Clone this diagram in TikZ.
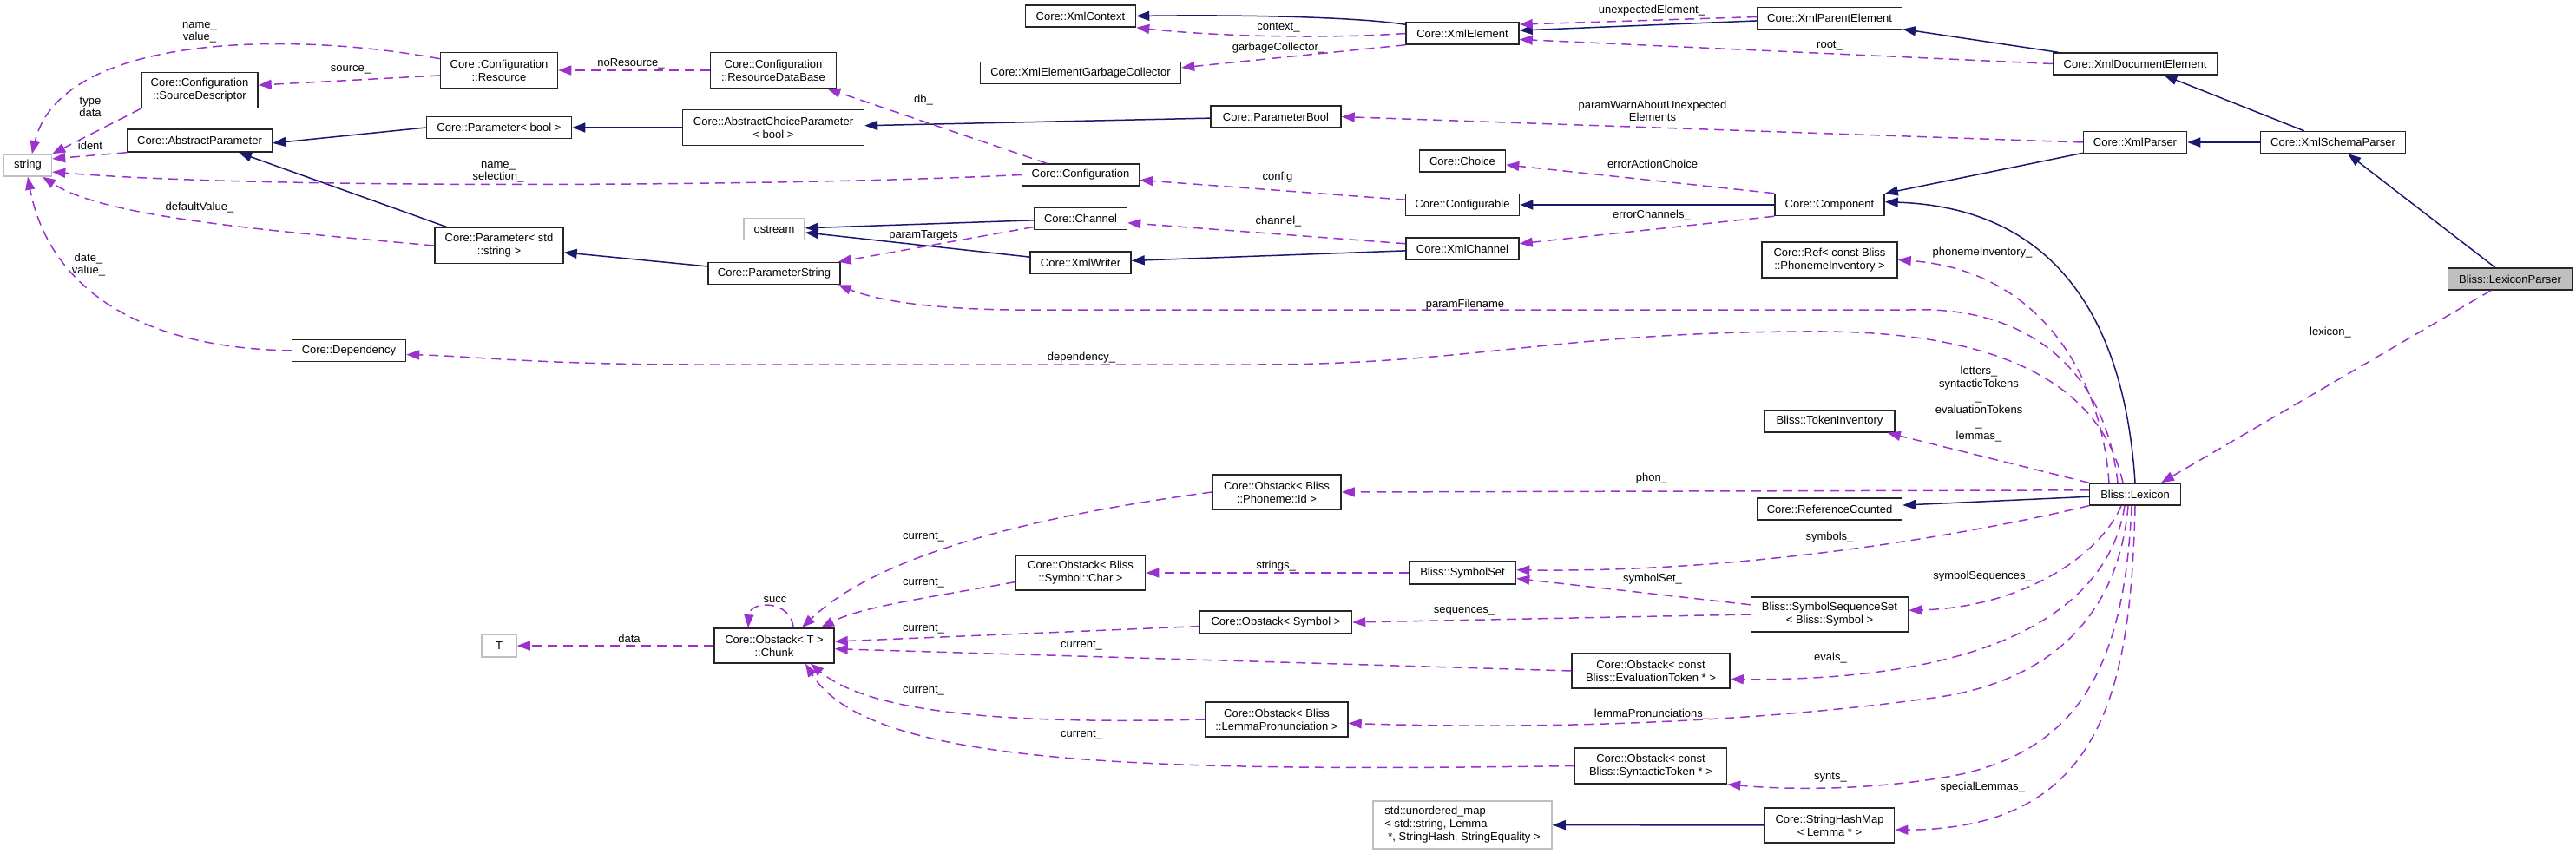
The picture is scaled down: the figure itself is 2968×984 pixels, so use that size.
\documentclass[tikz,border=0pt]{standalone}
\usepackage{fontspec}
\setmainfont{Liberation Sans}
\usepackage{xcolor}
\usetikzlibrary{arrows.meta}
\definecolor{inhblue}{HTML}{191970}
\definecolor{usepurple}{HTML}{9A32CD}
\definecolor{extgray}{HTML}{BFBFBF}

\begin{document}
\begin{tikzpicture}[
  x=1pt, y=-1pt,
  every node/.style={font=\fontsize{13}{15}\selectfont},
  cls/.style={draw=black!85, fill=white, line width=1.5pt, inner sep=0pt, minimum height=25pt, align=center},
  clstwo/.style={cls, minimum height=41pt},
  extcls/.style={cls, draw=extgray},
  lbl/.style={inner sep=0pt, align=center, font=\fontsize{13}{14}\selectfont},
  inh/.style={inhblue, line width=1.5pt, -{Triangle[length=15pt,width=11pt]}},
  usg/.style={usepurple, line width=1.5pt, dash pattern=on 11pt off 7pt, -{Triangle[length=15pt,width=11pt]}}
]
\useasboundingbox (0,0) rectangle (2968,984);
% Coordinates are pixels of the doxygen graph (y grows downwards)
% Left part: string and configuration
\node[extcls, minimum width=55pt] (str) at (32,190.5) {string};
\node[clstwo, minimum width=134pt] (srcdesc) at (230,104) {Core::Configuration\\::SourceDescriptor};
\node[cls, minimum width=167pt, minimum height=26pt] (absparam) at (230,162) {Core::AbstractParameter};
\node[clstwo, minimum width=135pt] (resource) at (575,81) {Core::Configuration\\::Resource};
\node[cls, minimum width=167pt] (parambool) at (575,147) {Core::Parameter< bool >};
\node[clstwo, minimum width=148pt] (paramstr) at (575,283) {Core::Parameter< std\\::string >};
\node[cls, minimum width=131pt] (depend) at (402,404) {Core::Dependency};
\node[extcls, minimum width=40pt, minimum height=26pt] (tparam) at (575,744) {T};
% Column x=892
\node[clstwo, minimum width=145pt] (resdb) at (891,81) {Core::Configuration\\::ResourceDataBase};
\node[clstwo, minimum width=209pt] (choiceparam) at (891,147) {Core::AbstractChoiceParameter\\< bool >};
\node[extcls, minimum width=70pt] (ostream) at (892,264) {ostream};
\node[cls, minimum width=152pt] (pstring) at (892,315) {Core::ParameterString};
\node[clstwo, minimum width=138pt, minimum height=40pt] (chunk) at (892,744) {Core::Obstack< T >\\::Chunk};
% Column x=1245
\node[cls, minimum width=127pt] (xmlctx) at (1245,18.5) {Core::XmlContext};
\node[cls, minimum width=231pt] (garbage) at (1245,84) {Core::XmlElementGarbageCollector};
\node[cls, minimum width=135pt] (config) at (1245,201.5) {Core::Configuration};
\node[cls, minimum width=107pt] (channel) at (1245,252) {Core::Channel};
\node[cls, minimum width=116pt] (xmlwriter) at (1245,302.5) {Core::XmlWriter};
\node[clstwo, minimum width=149pt, minimum height=40pt] (obschar) at (1245,660) {Core::Obstack< Bliss\\::Symbol::Char >};
% Column x=1470
\node[cls, minimum width=150pt] (pbool) at (1470,134.5) {Core::ParameterBool};
\node[clstwo, minimum width=148pt, minimum height=40pt] (obsphon) at (1471,567) {Core::Obstack< Bliss\\::Phoneme::Id >};
\node[cls, minimum width=175pt, minimum height=26pt] (obssym) at (1470,717) {Core::Obstack< Symbol >};
\node[clstwo, minimum width=164pt, minimum height=40pt] (obslemma) at (1471,829) {Core::Obstack< Bliss\\::LemmaPronunciation >};
% Column x=1685
\node[cls, minimum width=130pt] (xmlelem) at (1685,38.5) {Core::XmlElement};
\node[cls, minimum width=99pt] (choice) at (1685,185.5) {Core::Choice};
\node[cls, minimum width=131pt] (configurable) at (1685,236) {Core::Configurable};
\node[cls, minimum width=130pt] (xmlchannel) at (1685,286.5) {Core::XmlChannel};
\node[cls, minimum width=123pt, minimum height=26pt] (symset) at (1685,660) {Bliss::SymbolSet};
\node[extcls, minimum width=206pt, minimum height=55pt, align=left] (umap) at (1685,950.5) {std::unordered\_map\\< std::string, Lemma\\\hspace*{4pt}*, StringHash, StringEquality >};
% Column x=1902
\node[clstwo, minimum width=182pt, minimum height=40pt] (obseval) at (1902,773) {Core::Obstack< const\\Bliss::EvaluationToken * >};
\node[clstwo, minimum width=175pt] (obssynt) at (1902,882.5) {Core::Obstack< const\\Bliss::SyntacticToken * >};
% Column x=2108
\node[cls, minimum width=167pt] (xmlparent) at (2108,21) {Core::XmlParentElement};
\node[cls, minimum width=126pt] (component) at (2108,236) {Core::Component};
\node[clstwo, minimum width=156pt] (phonref) at (2108,299.5) {Core::Ref< const Bliss\\::PhonemeInventory >};
\node[cls, minimum width=150pt] (tokinv) at (2108,485.5) {Bliss::TokenInventory};
\node[cls, minimum width=167pt] (refcount) at (2108,586.5) {Core::ReferenceCounted};
\node[clstwo, minimum width=181pt, minimum height=40pt] (symseqset) at (2108,708) {Bliss::SymbolSequenceSet\\< Bliss::Symbol >};
\node[clstwo, minimum width=149pt, minimum height=40pt] (strmap) at (2108,951) {Core::StringHashMap\\< Lemma * >};
% Right part: parsers and the lexicon
\node[cls, minimum width=189pt] (xmldoc) at (2460,73.5) {Core::XmlDocumentElement};
\node[cls, minimum width=119pt] (xmlparser) at (2460,164) {Core::XmlParser};
\node[cls, minimum width=105pt] (lexicon) at (2460,569.5) {Bliss::Lexicon};
\node[cls, minimum width=167pt] (schemaparser) at (2688,164) {Core::XmlSchemaParser};
\node[cls, fill=extgray, minimum width=143pt] (lexparser) at (2892,321.5) {Bliss::LexiconParser};

% Inheritance (solid)
\draw[inh] (parambool.west) -- (absparam.-2);
\draw[inh] ([xshift=15pt]paramstr.north west) -- ([xshift=45pt]absparam.south);
\draw[inh] (choiceparam) -- (parambool);
\draw[inh] (pbool) -- (choiceparam);
\draw[inh] (pstring.174) -- (paramstr.-6);
\draw[inh] (channel) -- (ostream);
\draw[inh] (xmlwriter) -- (ostream);
\draw[inh] (xmlchannel) -- (xmlwriter);
\draw[inh] ([yshift=-3pt]xmlelem.north west) .. controls (1560,19) and (1420,17) .. (xmlctx.east);
\draw[inh] (xmlparent.-178) -- (xmlelem.3);
\draw[inh] (xmldoc) -- (xmlparent);
\draw[inh] (xmlparser) -- (component);
\draw[inh] (schemaparser) -- (xmlparser);
\draw[inh] (schemaparser) -- (xmldoc);
\draw[inh] (lexparser) -- (schemaparser);
\draw[inh] (component) -- (configurable);
\draw[inh] (lexicon.north) .. controls (2450,400) and (2390,240) .. (component.3);
\draw[inh] (lexicon.-177) -- (refcount.3);
\draw[inh] (strmap) -- (umap);

% Usage (dashed)
\draw[usg] (resource.169) .. controls (330,35) and (70,40) .. (str.70);
\draw[usg] (srcdesc.south west) -- (str.north east);
\draw[usg] (absparam.south west) -- (str.15);
\draw[usg] (config.west) .. controls (900,215) and (300,218) .. (str.-15);
\draw[usg] (paramstr.west) .. controls (300,265) and (120,250) .. (str.-38);
\draw[usg] (depend.west) .. controls (120,400) and (50,300) .. (str.south);
\draw[usg] (resource.-175) -- (srcdesc.5);
\draw[usg] (resdb) -- (resource);
\draw[usg] (config) -- (resdb);
\draw[usg] (configurable.175) -- (config.-5);
\draw[usg] (channel.-170) -- ([xshift=-3pt]pstring.north east);
\draw[usg] (xmlchannel.175) -- (channel.-5);
\draw[usg] (xmlelem.west) .. controls (1530,45) and (1400,42) .. (xmlctx.south east);
\draw[usg] (xmlelem.south west) -- (garbage.3);
\draw[usg] (xmlparent.179) -- (xmlelem.9);
\draw[usg] (xmldoc.west) -- (xmlelem.-6);
\draw[usg] (xmlparser.west) -- (pbool.east);
\draw[usg] (component.north west) -- (choice.-5);
\draw[usg] (component.south west) -- (xmlchannel.5);
% members of Bliss::Lexicon
\draw[usg] ([xshift=-30pt]lexicon.north) .. controls (2420,420) and (2340,310) .. (phonref.east);
\draw[usg] ([xshift=-20pt]lexicon.north) .. controls (2425,420) and (2330,352) .. (2200,357) -- (1200,357) .. controls (1100,358) and (1020,350) .. ([xshift=-3pt]pstring.south east);
\draw[usg] ([xshift=-14pt]lexicon.north) .. controls (2420,440) and (2300,383) .. (2100,382) .. controls (1800,381) and (1700,420) .. (1450,420) -- (800,420) .. controls (620,420) and (540,410) .. (depend.-4);
\draw[usg] (lexicon.north west) -- ([xshift=-9pt]tokinv.south east);
\draw[usg] (lexicon.175) -- (obsphon.east);
\draw[usg] (lexicon.south west) .. controls (2250,620) and (2000,660) .. (symset.3);
\draw[usg] ([xshift=-16pt]lexicon.south) .. controls (2420,640) and (2330,700) .. (symseqset.3);
\draw[usg] ([xshift=-12pt]lexicon.south) .. controls (2430,700) and (2300,785) .. (obseval.-6);
\draw[usg] ([xshift=-8pt]lexicon.south) .. controls (2440,720) and (2350,790) .. (2220,805) .. controls (2000,835) and (1750,840) .. (obslemma.-3);
\draw[usg] ([xshift=-4pt]lexicon.south) .. controls (2448,760) and (2400,860) .. (2260,892) .. controls (2180,908) and (2080,912) .. (obssynt.south east);
\draw[usg] (lexicon.south) .. controls (2455,800) and (2420,955) .. (strmap.-4.5);
\draw[usg] ([xshift=-22pt]lexparser.south) -- ([xshift=30pt]lexicon.north);
% obstacks and chunks
\draw[usg] (symset) -- (obschar);
\draw[usg] (symseqset.173) -- (symset.-6.5);
\draw[usg] (symseqset.west) -- (obssym.east);
\draw[usg] (obsphon.west) .. controls (1150,600) and (1000,650) .. ([xshift=32pt]chunk.north);
\draw[usg] (obschar.-172) .. controls (1060,690) and (990,700) .. ([xshift=54pt]chunk.north);
\draw[usg] (obssym.-177) -- (chunk.4);
\draw[usg] (obseval.west) -- (chunk.-3);
\draw[usg] (obslemma.west) .. controls (1150,835) and (1000,820) .. ([xshift=42pt]chunk.south);
\draw[usg] (obssynt.west) .. controls (1300,890) and (1000,880) .. ([xshift=36pt]chunk.south);
\draw[usg] ([xshift=22pt]chunk.north) .. controls +(-2,-32) and +(2,-32) .. ([xshift=-30pt]chunk.north);
\draw[usg] (chunk) -- (tparam);

% Edge labels
\foreach \nm/\x/\y/\txt in {
  lnameval/230/37.5/{name\_\\value\_}, lsource/404/80/{source\_}, ltypedata/104/123.5/{type\\data},
  lident/104/168/{ident}, lnamesel/574/198/{name\_\\selection\_}, ldefault/230/239/{defaultValue\_},
  ldateval/102/305.5/{date\_\\value\_}, lnores/727/73/{noResource\_}, ldb/1064/115/{db\_},
  lptargets/1064/271/{paramTargets}, lcontext/1473/32/{context\_}, lgarbage/1473/55/{garbageCollector\_},
  lconfig/1472/204/{config}, lchannel/1473/255/{channel\_}, lunexp/1903/12/{unexpectedElement\_},
  lroot/2108/53/{root\_}, lwarn/1904/128/{paramWarnAboutUnexpected\\Elements},
  lerract/1904/189/{errorActionChoice}, lerrch/1903/248/{errorChannels\_},
  lphoninv/2284/291/{phonemeInventory\_}, llexicon/2685/383/{lexicon\_},
  ldepend/1246/412/{dependency\_}, lpfile/1688/351/{paramFilename}, lphon/1903/551/{phon\_},
  lsymbols/2108/619/{symbols\_}, lstrings/1470/652/{strings\_}, lsymset/1904/667/{symbolSet\_},
  lseq/1687/704/{sequences\_}, lsymseq/2284/664/{symbolSequences\_}, levals/2109/758/{evals\_},
  llpron/1903/823/{lemmaPronunciations\_}, lsynts/2109/896/{synts\_}, lspecial/2284/907/{specialLemmas\_},
  lsucc/893/691/{succ}, ldata/725/736/{data}}
  \node[lbl] (\nm) at (\x,\y) {\txt};
\node[lbl, font=\fontsize{13}{15}\selectfont] (ltokens) at (2280,465.5) {letters\_\\syntacticTokens\\\_\\evaluationTokens\\\_\\lemmas\_};
% the six current_ members of the obstacks
\foreach \x/\y [count=\i] in {1064/619, 1064/672, 1064/725, 1246/744, 1064/796, 1246/847}
  \node[lbl] (lcur\i) at (\x,\y) {current\_};
\end{tikzpicture}
\end{document}
